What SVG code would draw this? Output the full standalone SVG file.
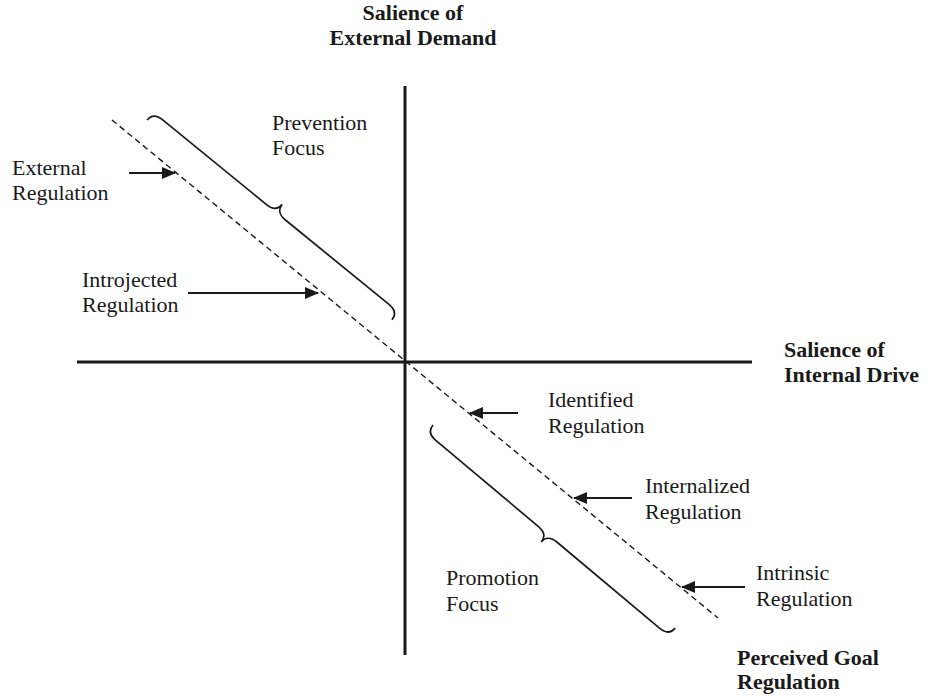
<svg xmlns="http://www.w3.org/2000/svg" width="925" height="696" viewBox="0 0 925 696">
<style>
text{font-family:"Liberation Serif","Times New Roman",serif;font-size:22px;fill:#1a1a1a}
.b{font-weight:bold}
.axis{stroke:#1a1a1a;stroke-width:3;fill:none}
.dash{stroke:#1a1a1a;stroke-width:1.4;stroke-dasharray:6 4;fill:none}
.brace{stroke:#1a1a1a;stroke-width:1.7;fill:none}
.arr{stroke:#1a1a1a;stroke-width:1.8;fill:none;marker-end:url(#ah)}
</style>
<defs>
<marker id="ah" viewBox="0 0 14 12" refX="13" refY="6" markerWidth="14" markerHeight="12" markerUnits="userSpaceOnUse" orient="auto">
<path d="M0,0 L14,6 L0,12 Z" fill="#1a1a1a"/>
</marker>
<path id="brace" d="M0,10 C0,3 4,0 12,0 L146,0 C154,0 158,-4 158,-10 C158,-4 162,0 170,0 L304,0 C312,0 316,3 316,10"/>
</defs>
<rect width="925" height="696" fill="#fff"/>
<g id="connectors">
<line class="axis" x1="405" y1="86" x2="405" y2="655"/>
<line class="axis" x1="77" y1="362" x2="752" y2="362"/>
<line class="dash" x1="112" y1="120" x2="718" y2="618"/>
<use href="#brace" class="brace" transform="translate(153.4,112.3) rotate(39.2)"/>
<use href="#brace" class="brace" transform="translate(426.6,432.7) rotate(40) scale(1,-1)"/>
<line class="arr" x1="129" y1="173" x2="175" y2="173"/>
<line class="arr" x1="188" y1="293" x2="318" y2="293"/>
<line class="arr" x1="518" y1="413" x2="470" y2="413"/>
<line class="arr" x1="632" y1="498" x2="574" y2="498"/>
<line class="arr" x1="745" y1="587" x2="682" y2="587"/>
</g>
<g id="y-axis-label"><text class="b" x="413" y="20" text-anchor="middle">Salience of</text><text class="b" x="413" y="45" text-anchor="middle">External Demand</text></g>
<g id="x-axis-label"><text class="b" x="784" y="357">Salience of</text><text class="b" x="784" y="382">Internal Drive</text></g>
<g id="goal-label"><text class="b" x="737" y="665">Perceived Goal</text><text class="b" x="737" y="689">Regulation</text></g>
<g id="prevention"><text x="272" y="130">Prevention</text><text x="272" y="155">Focus</text></g>
<g id="promotion"><text x="446" y="585">Promotion</text><text x="446" y="611">Focus</text></g>
<g id="external"><text x="12" y="175">External</text><text x="12" y="200">Regulation</text></g>
<g id="introjected"><text x="82" y="287">Introjected</text><text x="82" y="312">Regulation</text></g>
<g id="identified"><text x="548" y="407">Identified</text><text x="548" y="433">Regulation</text></g>
<g id="internalized"><text x="645" y="493">Internalized</text><text x="645" y="519">Regulation</text></g>
<g id="intrinsic"><text x="756" y="580">Intrinsic</text><text x="756" y="606">Regulation</text></g>
</svg>
